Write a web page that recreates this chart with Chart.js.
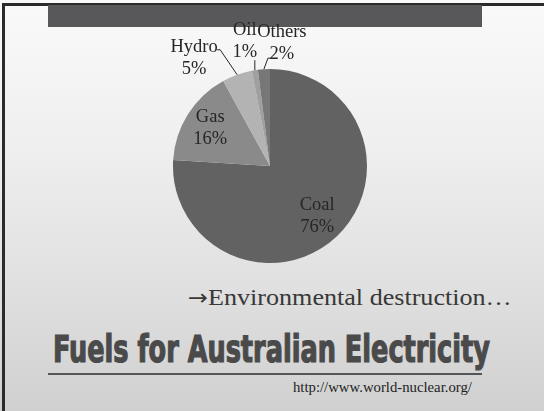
<!DOCTYPE html>
<html>
<head>
<meta charset="utf-8">
<script src="https://cdn.jsdelivr.net/npm/chart.js@4"></script>
<style>
	html, body { margin: 0; padding: 0; }
	body {
		width: 544px; height: 411px; position: relative; overflow: hidden;
		background: linear-gradient(#fafafa 0%, #efefef 35%, #e0e0e0 70%, #d0d0d0 100%);
	}
	.frame { position: absolute; left: 2px; top: 3px; right: 0; bottom: 0; border-left: 3px solid #2b2b2b; border-top: 3px solid #2b2b2b; }
	.topbar { position: absolute; left: 48px; top: 5px; width: 434px; height: 22px; background: #58585a; }
	#pieBox { position: absolute; left: 120px; top: 20px; width: 300px; height: 260px; }
	.fit { position: absolute; white-space: nowrap; transform-origin: 0 0; }
	.note { left: 188px; top: 285px; font: 24px/24px "Liberation Serif", "Times New Roman", serif; color: #383838; }
	.note .arrow { font-family: "DejaVu Sans", sans-serif; font-size: 22px; }
	.title { left: 53px; top: 331px; font: bold 37px/37px "DejaVu Sans Condensed", "Liberation Sans Narrow", sans-serif; font-stretch: condensed; color: #4a4a4a; -webkit-text-stroke: 1.2px #4a4a4a; }
	.rule { position: absolute; left: 48px; top: 373px; width: 434px; height: 2px; background: #555; }
	.url { left: 293px; top: 381px; font: 14px/14px "Liberation Serif", "Times New Roman", serif; color: #222; }
</style>
</head>
<body>
<div class="frame"></div>
<div class="topbar"></div>
<div id="pieBox"><canvas id="fuelChart"></canvas></div>
<div class="fit note" data-width="324"><span class="arrow">→</span>Environmental destruction…</div>
<div class="fit title" data-width="437">Fuels for Australian Electricity</div>
<div class="rule"></div>
<div class="fit url" data-width="179">http://www.world-nuclear.org/</div>
<script>
const categories = ['Coal', 'Gas', 'Hydro', 'Oil', 'Others'];
const shares = [76, 16, 5, 1, 2];

const sliceColors = ['#626262', '#8a8a8a', '#b3b3b3', '#a0a0a0', '#777777'];

// where each label sits: inside at a fraction of the radius, or outside with a leader line
const labelPlaces = {
	Coal: { inside: 0.71 },
	Gas: { inside: 0.73 },
	Hydro: { text: [-43, -28], path: [[-17, -25], [-20, -25]] },
	Oil: { text: [-10, -40], path: [[0, -10]] },
	Others: { text: [18, -37], path: [[4, -11], [7, -11]] }
};

const pieLabels = {
	id: 'pieLabels',
	afterDatasetsDraw(chart) {
		const ctx = chart.ctx;
		const meta = chart.getDatasetMeta(0);
		ctx.save();
		ctx.font = '18.5px "Liberation Serif", "Times New Roman", serif';
		ctx.fillStyle = '#262626';
		ctx.strokeStyle = '#262626';
		ctx.lineWidth = 1;
		ctx.textAlign = 'center';
		ctx.textBaseline = 'middle';
		meta.data.forEach((arc, i) => {
			const p = arc.getProps(['x', 'y', 'startAngle', 'endAngle', 'outerRadius'], true);
			const mid = (p.startAngle + p.endAngle) / 2;
			const place = labelPlaces[categories[i]];
			const lines = [categories[i], shares[i] + '%'];
			let tx, ty;
			if (place.inside) {
				tx = p.x + Math.cos(mid) * p.outerRadius * place.inside;
				ty = p.y + Math.sin(mid) * p.outerRadius * place.inside - 11;
			} else {
				const ex = p.x + Math.cos(mid) * p.outerRadius;
				const ey = p.y + Math.sin(mid) * p.outerRadius;
				ctx.beginPath();
				ctx.moveTo(ex, ey);
				place.path.forEach(pt => ctx.lineTo(ex + pt[0], ey + pt[1]));
				ctx.stroke();
				tx = ex + place.text[0];
				ty = ey + place.text[1];
			}
			lines.forEach((t, k) => ctx.fillText(t, tx, ty + k * 22));
		});
		ctx.restore();
	}
};

new Chart(document.getElementById('fuelChart'), {
	type: 'pie',
	data: {
		labels: categories,
		datasets: [{
			data: shares,
			backgroundColor: sliceColors,
			borderWidth: 0
		}]
	},
	options: {
		responsive: true,
		maintainAspectRatio: false,
		animation: false,
		layout: { padding: { left: 53, right: 53, top: 49, bottom: 17 } },
		plugins: { legend: { display: false }, tooltip: { enabled: false } }
	},
	plugins: [pieLabels]
});

// squeeze the slide texts to the widths they have on the slide
document.querySelectorAll('.fit').forEach(el => {
	el.style.transform = 'scaleX(' + (el.dataset.width / el.offsetWidth) + ')';
});
</script>
</body>
</html>
